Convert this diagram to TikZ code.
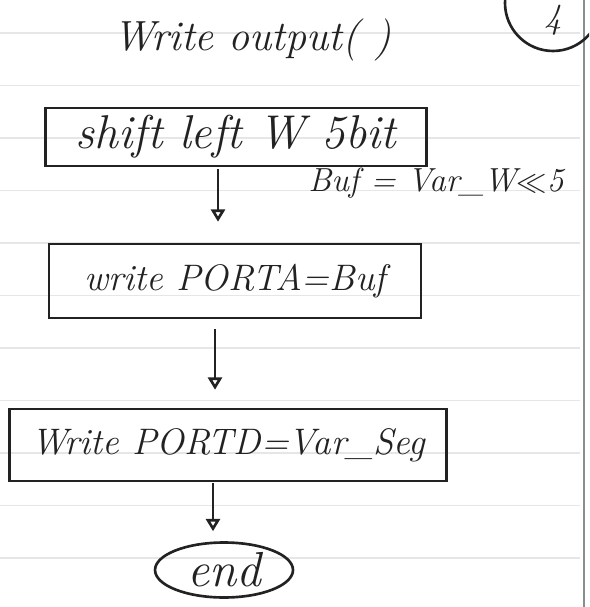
\documentclass[tikz,border=0pt]{standalone}
\usepackage{tikz}
\usetikzlibrary{arrows.meta,shapes.geometric,calc}
\definecolor{Ink}  {HTML}{222222}
\definecolor{Rule} {HTML}{E6E6E6}
\definecolor{Edge} {HTML}{8C8C8C}

\begin{document}
\begin{tikzpicture}[x=0.02cm,y=-0.02cm,
    hand/.style={font=\fontsize{#1}{#1}\selectfont\itshape,text=Ink},
    hand/.default=21,
    procbox/.style={draw=Ink,line width=1.5pt,inner sep=2pt},
    ar/.style={-{Triangle[open,length=7pt,width=8pt]},line width=1.5pt,Ink}
  ]
    \clip (0,0) rectangle (589,607);
    \fill[white] (0,0) rectangle (589,607);
    % ruled paper
    \foreach \y in {33,85.5,138,190.5,243,295.5,348,400.5,453,505.5,558}
      \draw[Rule,line width=0.6pt] (0,\y) -- (580,\y);
    \draw[Edge,line width=0.9pt] (584,0) -- (584,607);
    \draw[Ink,line width=1.5pt] (553,3) circle (48);
    \node[hand=20,inner sep=0pt] (pg) at (553,20) {4};

    \node[hand=24] (title) at (252,40) {Write output( )};
    \node[procbox,hand=27,minimum width=7.62cm,minimum height=1.16cm] (s1) at (236,137) {shift left W 5bit};
    \node[hand=19] (buf) at (436,183) {Buf = Var\_W$\ll$5};
    \node[procbox,hand=21,minimum width=7.44cm,minimum height=1.48cm] (s2) at (235,281) {write PORTA=Buf};
    \node[procbox,hand=21,minimum width=8.74cm,minimum height=1.44cm] (s3) at (228,445) {Write PORTD=Var\_Seg};
    \node[hand=28,draw=Ink,line width=1.5pt,ellipse,
          minimum width=2.76cm,minimum height=1.1cm,inner sep=0pt] (fin) at (224,570) {end};
    \foreach \a/\b/\x/\g/\h in {s1/s2/218/2/21,s2/s3/215/10/18,s3/fin/213/1/10}
      \draw[ar] ($(\a.south -| \x,0)+(0,\g)$) -- ($(\b.north -| \x,0)-(0,\h)$);
  \end{tikzpicture}
\end{document}
